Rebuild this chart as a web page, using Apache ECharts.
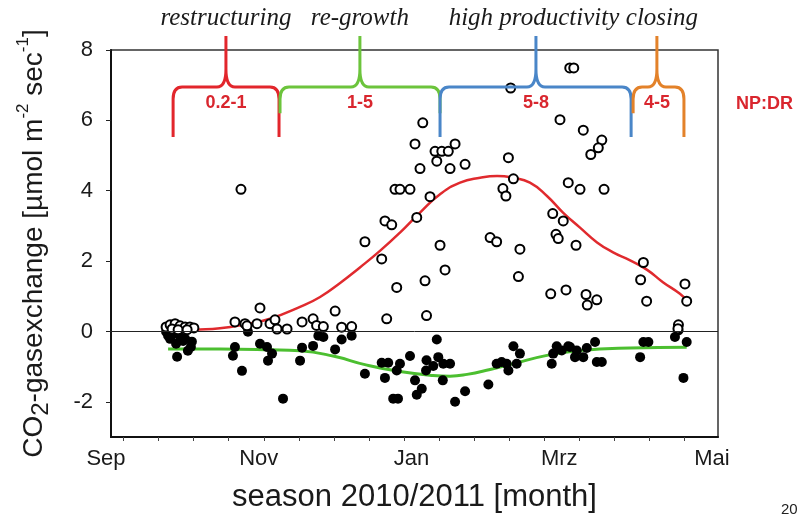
<!DOCTYPE html>
<html><head><meta charset="utf-8">
<script src="https://cdn.jsdelivr.net/npm/echarts@6/dist/echarts.min.js"></script>
<style>html,body{margin:0;padding:0;background:#fff}#c{width:798px;height:519px}</style>
</head><body><div id="c"></div>
<script>
// ---- data (x = days since 1 Sep 2010) ----
const monthLabels = ['Sep', 'Nov', 'Jan', 'Mrz', 'Mai'];
const monthDays = [0, 61, 122, 181, 242];
const minorTickDays = [7, 21, 35, 49, 63, 77, 91, 105, 119, 133, 147, 161, 175, 189, 203, 217, 231];
const yTickValues = [-2, 0, 2, 4, 6, 8];

// net photosynthesis (open circles)
const npDays = [24.0, 25.6, 27.6, 29.6, 31.6, 33.5, 35.1, 26.4, 28.8, 32.4,
  53.9,
  51.5, 55.5, 56.3, 60.3, 61.5, 65.5, 67.5, 68.3, 72.3, 78.3, 82.7, 84.1, 86.8, 91.5, 94.1, 98.1,
  126.5, 123.4, 131.4, 134.1, 136.7, 139.4, 132.1, 125.4, 137.4, 143.4, 115.4, 117.4, 121.4, 129.4,
  124.1, 111.4, 114.1, 103.4, 133.4, 110.1, 135.4, 127.4, 116.1, 112.1, 128.0,
  153.4, 156.0, 161.6, 160.7, 162.7, 158.5, 159.7, 165.3, 164.7,
  181.3, 185.2, 186.8, 190.6, 198.0, 196.6, 193.6, 184.6, 189.3, 198.9, 178.4, 182.6, 179.7, 180.6,
  187.7, 177.6, 183.7, 191.7, 196.0, 192.2, 214.6, 213.5, 215.9, 231.2, 231.9, 228.6, 228.4];
const npValues = [0.13, 0.19, 0.22, 0.16, 0.13, 0.13, 0.10, 0.07, 0.05, 0.05,
  4.04,
  0.27, 0.22, 0.16, 0.22, 0.67, 0.22, 0.33, 0.07, 0.07, 0.27, 0.36, 0.17, 0.14, 0.58, 0.12, 0.14,
  5.93, 5.33, 5.12, 5.12, 5.12, 5.33, 4.84, 4.63, 4.63, 4.75, 4.04, 4.04, 4.04, 3.83,
  3.24, 3.14, 3.03, 2.55, 2.45, 2.06, 1.75, 1.44, 1.25, 0.36, 0.45,
  2.67, 2.55, 6.92, 4.94, 4.34, 4.06, 3.85, 2.34, 1.56,
  6.02, 7.49, 7.49, 5.72, 5.44, 5.22, 5.03, 4.23, 4.04, 4.04, 3.35, 3.14, 2.76, 2.64,
  2.45, 1.07, 1.18, 1.05, 0.90, 0.75, 1.96, 1.47, 0.86, 1.35, 0.86, 0.19, 0.08];

// dark respiration (filled circles)
const drDays = [24.0, 24.8, 26.8, 25.6, 29.6, 28.0, 30.8, 31.6, 34.3, 33.9, 32.7, 28.4,
  56.7, 51.5, 50.7, 54.3, 61.5, 64.3, 66.3, 64.7, 70.7, 78.3, 77.5, 82.7,
  84.8, 86.8, 91.5, 94.1, 98.1, 103.4, 111.4, 110.1, 112.7, 116.1, 117.4, 121.4, 123.4, 124.1,
  126.1, 128.0, 127.8, 130.7, 132.7, 132.1, 134.7, 137.4, 134.5, 114.7, 116.6, 139.4, 143.4, 152.7,
  156.0, 158.0, 160.0, 160.7, 162.7, 165.3, 164.0, 178.0, 178.6, 180.0, 182.0, 184.6, 185.3,
  187.3, 188.0, 190.6, 192.0, 195.3, 196.0, 198.0, 213.3, 214.6, 216.6, 227.2, 228.6, 231.9, 230.6];
const drValues = [-0.01, -0.12, -0.07, -0.21, -0.15, -0.35, -0.27, -0.21, -0.29, -0.44, -0.55, -0.72,
  -0.01, -0.44, -0.69, -1.12, -0.35, -0.44, -0.63, -0.83, -1.91, -0.46, -0.83, -0.41,
  -0.12, -0.16, -0.51, -0.23, -0.12, -1.20, -1.32, -0.89, -0.89, -1.11, -0.92, -0.70, -1.39, -1.80,
  -1.63, -0.82, -1.11, -0.98, -0.73, -0.23, -0.92, -0.92, -1.39, -1.91, -1.91, -2.00, -1.70, -1.51,
  -0.92, -0.87, -0.92, -1.11, -0.42, -0.63, -0.92, -0.92, -0.63, -0.42, -0.54, -0.42, -0.44,
  -0.73, -0.54, -0.73, -0.47, -0.30, -0.87, -0.87, -0.73, -0.30, -0.30, -0.16, 0.03, -0.30, -1.32];

// fitted curves
const npFitDays = [24.8, 35.5, 45.5, 55.5, 65.5, 77.5, 85.5, 93.5, 101.4, 109.4, 117.4, 125.4, 133.4,
  141.4, 149.4, 156.2, 162.5, 169.3, 176.1, 182.5, 189.3, 196.1, 202.5, 209.3, 216.1, 222.4, 229.2, 231.9];
const npFitValues = [0.0, 0.05, 0.09, 0.2, 0.36, 0.70, 0.98, 1.38, 1.82, 2.29, 2.81, 3.38, 3.90,
  4.23, 4.37, 4.42, 4.37, 4.23, 3.85, 3.38, 2.95, 2.53, 2.25, 2.02, 1.75, 1.40, 1.07, 0.88];
const drFitDays = [24.8, 45.5, 65.5, 77.5, 90.7, 103.8, 117.4, 130.6, 137.4, 144.2, 153.4, 162.5, 176.1, 189.3, 209.3, 231.9];
const drFitValues = [-0.50, -0.50, -0.52, -0.55, -0.70, -0.95, -1.14, -1.25, -1.27, -1.22, -1.08, -0.92, -0.68, -0.54, -0.47, -0.45];

// phases
const phaseNames = ['restructuring', 're-growth', 'high productivity', 'closing'];
const phaseRatios = ['0.2-1', '1-5', '5-8', '4-5'];
const phaseStart = [26.8, 69.5, 133.4, 210.5];
const phaseTip = [47.9, 101.4, 171.7, 220.0];
const phaseEnd = [69.1, 133.4, 209.7, 230.8];

// ---- styles ----
const phaseColors = ['#e2262c', '#6cc43c', '#4a86c8', '#e3822a'];
const shortLeft = [false, true, false, true];
const shortRight = [false, true, false, false];
const nameShift = [0, 0, -2, 5];
const SANS = '"Liberation Sans", Arial, sans-serif';
const SERIF = '"Liberation Serif", "Times New Roman", serif';
const RED = '#d9262e';

const xMin = 2, xMax = 244.4;
const labelValues = monthDays.map(d => Math.max(d, xMin));

const chart = echarts.init(document.getElementById('c'), null, {renderer: 'canvas'});

const braceData = phaseStart.map((s, i) => [s, phaseTip[i], phaseEnd[i], 6.95]);

chart.setOption({
  animation: false,
  backgroundColor: '#fff',
  grid: {left: 111, right: 80, top: 50, bottom: 82, show: true, borderColor: '#333', borderWidth: 1.5},
  xAxis: {
    type: 'value', min: xMin, max: xMax,
    name: 'season 2010/2011 [month]', nameLocation: 'middle', nameGap: 45,
    nameTextStyle: {fontSize: 31, fontFamily: SANS, color: '#1a1a1a'},
    axisLine: {show: true, onZero: false, lineStyle: {color: '#111', width: 2}},
    axisTick: {show: true, inside: false, length: 4, customValues: minorTickDays, lineStyle: {color: '#444', width: 1}},
    axisLabel: {
      customValues: labelValues, margin: 11, fontSize: 22, fontFamily: SANS, color: '#1a1a1a',
      formatter: v => {
        const i = labelValues.indexOf(v);
        const t = monthLabels[i];
        return i === 0 ? '{s|' + t + '}' : t;
      },
      rich: {s: {fontSize: 22, fontFamily: SANS, color: '#1a1a1a', padding: [0, 10, 0, 0]}}
    },
    splitLine: {show: false}
  },
  yAxis: {
    type: 'value', min: -3, max: 8,
    name: '{a|CO}{b|2}{a|-gasexchange [µmol m}{c|-2}{a| sec}{c|-1}{a|]}',
    nameLocation: 'middle', nameGap: 58, nameRotate: 90,
    nameTextStyle: {
      fontSize: 28, fontFamily: SANS, color: '#1a1a1a',
      rich: {
        a: {fontSize: 28, fontFamily: SANS, color: '#1a1a1a', lineHeight: 38},
        b: {fontSize: 24, fontFamily: SANS, color: '#1a1a1a', lineHeight: 38, verticalAlign: 'bottom'},
        c: {fontSize: 17, fontFamily: SANS, color: '#1a1a1a', lineHeight: 38, verticalAlign: 'top'}
      }
    },
    axisLine: {show: true, onZero: false, lineStyle: {color: '#111', width: 2}},
    axisTick: {show: true, inside: false, length: 5, customValues: yTickValues, lineStyle: {color: '#222', width: 1}},
    axisLabel: {customValues: yTickValues, margin: 18, fontSize: 22, fontFamily: SANS, color: '#1a1a1a'},
    splitLine: {show: false}
  },
  graphic: [
    {type: 'text', left: 736, top: 95, style: {text: 'NP:DR', font: 'bold 18px ' + SANS, fill: RED}},
    {type: 'text', left: 781, top: 502, style: {text: '20', font: '15px ' + SANS, fill: '#222'}}
  ],
  series: [
    {
      type: 'line', name: 'DR fit', data: drFitDays.map((d, i) => [d, drFitValues[i]]),
      smooth: 0.5, showSymbol: false, lineStyle: {color: '#4cbf30', width: 3}, z: 2,
      markLine: {
        silent: true, symbol: 'none', label: {show: false},
        lineStyle: {color: '#222', width: 1, type: 'solid'},
        data: [{yAxis: 0}]
      }
    },
    {
      type: 'line', name: 'NP fit', data: npFitDays.map((d, i) => [d, npFitValues[i]]),
      smooth: 0.5, showSymbol: false, lineStyle: {color: '#e02a2e', width: 2.5}, z: 2
    },
    {
      type: 'scatter', name: 'DR', data: drDays.map((d, i) => [d, drValues[i]]),
      symbol: 'circle', symbolSize: 10, itemStyle: {color: '#000', opacity: 1}, z: 3
    },
    {
      type: 'scatter', name: 'NP', data: npDays.map((d, i) => [d, npValues[i]]),
      symbol: 'circle', symbolSize: 9, itemStyle: {color: '#fff', borderColor: '#000', borderWidth: 2, opacity: 1}, z: 3
    },
    {
      type: 'custom', name: 'phases', clip: false, z: 5, data: braceData,
      encode: {x: [0, 1, 2], y: 3},
      renderItem: (params, api) => {
        const i = params.dataIndex;
        const s = api.value(0), t = api.value(1), e = api.value(2);
        const yB = 5.53, yBs = 6.2, yH = 6.95, yTop = 8.4;
        const pL = api.coord([s, shortLeft[i] ? yBs : yB]);
        const pR = api.coord([e, shortRight[i] ? yBs : yB]);
        const hL = api.coord([s, yH]);
        const hR = api.coord([e, yH]);
        const tH = api.coord([t, yH]);
        const tp = api.coord([t, yTop]);
        const r = 9, tr = 9, th = 18;
        const d = 'M' + pL[0] + ',' + pL[1] + ' L' + hL[0] + ',' + (hL[1] + r + 3) +
          ' Q' + hL[0] + ',' + hL[1] + ' ' + (hL[0] + r) + ',' + hL[1] +
          ' L' + (tH[0] - tr) + ',' + tH[1] +
          ' Q' + tH[0] + ',' + tH[1] + ' ' + tH[0] + ',' + (tH[1] - th) +
          ' L' + tp[0] + ',' + tp[1] +
          ' M' + tH[0] + ',' + (tH[1] - th) +
          ' Q' + tH[0] + ',' + tH[1] + ' ' + (tH[0] + tr) + ',' + tH[1] +
          ' L' + (hR[0] - r) + ',' + hR[1] +
          ' Q' + hR[0] + ',' + hR[1] + ' ' + hR[0] + ',' + (hR[1] + r + 3) +
          ' L' + pR[0] + ',' + pR[1];
        const ratioPos = api.coord([t, 6.5]);
        const namePos = api.coord([t, 8.9]);
        return {
          type: 'group',
          children: [
            {type: 'path', shape: {pathData: d}, style: {stroke: phaseColors[i], lineWidth: 3, fill: null}},
            {type: 'text', style: {text: phaseRatios[i], x: ratioPos[0], y: ratioPos[1], align: 'center', verticalAlign: 'middle',
              font: 'bold 18px ' + SANS, fill: RED}},
            {type: 'text', style: {text: phaseNames[i], x: namePos[0] + nameShift[i], y: namePos[1], align: 'center', verticalAlign: 'middle',
              font: 'italic 25px ' + SERIF, fill: '#1a1a1a'}}
          ]
        };
      }
    }
  ]
});
</script>
</body></html>
